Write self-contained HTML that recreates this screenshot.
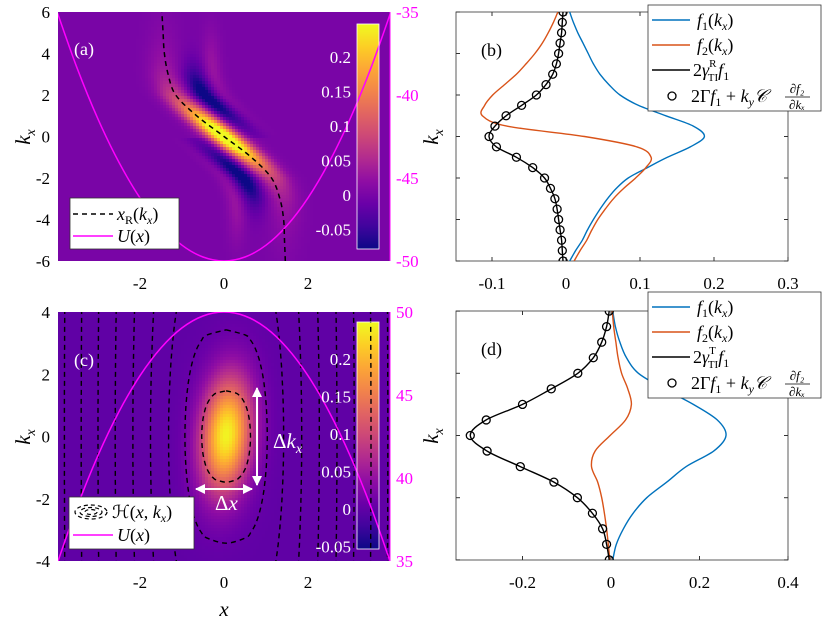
<!DOCTYPE html>
<html><head><meta charset="utf-8">
<style>
html,body{margin:0;padding:0;background:#fff;}
#wrap{position:relative;width:830px;height:623px;overflow:hidden;font-family:"Liberation Serif",serif;}
canvas{position:absolute;image-rendering:pixelated;}
svg{position:absolute;left:0;top:0;}
text{font-family:"Liberation Serif",serif;}
</style></head><body>
<div id="wrap">
<canvas id="hmA" style="left:58px;top:12px" width="332" height="249"></canvas>
<canvas id="hmC" style="left:58px;top:312px" width="332" height="249"></canvas>
<canvas id="cbA" style="left:357px;top:24px" width="22" height="225"></canvas>
<canvas id="cbC" style="left:357px;top:322px" width="22" height="227"></canvas>
<svg id="svg" width="830" height="623" xmlns="http://www.w3.org/2000/svg">
<defs>
<clipPath id="clipA"><rect x="58" y="12" width="332" height="249"/></clipPath>
<clipPath id="clipC"><rect x="58" y="312" width="332" height="249"/></clipPath>
<clipPath id="clipB"><rect x="456" y="12" width="332" height="249"/></clipPath>
<clipPath id="clipD"><rect x="456" y="311" width="332" height="249"/></clipPath>
<marker id="ah" viewBox="0 0 10 10" refX="9" refY="5" markerWidth="5" markerHeight="5" orient="auto-start-reverse"><path d="M0,0 L10,5 L0,10 z" fill="#fff"/></marker>
</defs>
<g id="gA"></g><g id="gB"></g><g id="gC"></g><g id="gD"></g>
</svg>
</div>
<script>
// ---------- DATA ----------
const kxB = [-6,-5.5,-5,-4.5,-4,-3.5,-3,-2.5,-2,-1.5,-1,-0.5,0,0.5,1,1.5,2,2.5,3,3.5,4,4.5,5,5.5,6];
const f1B = [0.005,0.013,0.022,0.029,0.037,0.046,0.056,0.068,0.084,0.110,0.137,0.168,0.187,0.172,0.135,0.098,0.073,0.058,0.046,0.037,0.030,0.023,0.016,0.010,0.005];
const f2B = [0.011,0.019,0.028,0.035,0.043,0.053,0.064,0.078,0.094,0.108,0.115,0.096,0.025,-0.080,-0.113,-0.110,-0.099,-0.083,-0.067,-0.054,-0.042,-0.032,-0.024,-0.017,-0.011];
const gamB = [-0.004,-0.005,-0.006,-0.008,-0.010,-0.012,-0.015,-0.021,-0.029,-0.045,-0.067,-0.094,-0.104,-0.096,-0.081,-0.060,-0.040,-0.027,-0.018,-0.013,-0.010,-0.008,-0.006,-0.005,-0.004];
const kxD = [-4,-3.5,-3,-2.5,-2,-1.5,-1,-0.5,0,0.5,1,1.5,2,2.5,3,3.5,4];
const f1D = [0.004,0.012,0.028,0.050,0.081,0.126,0.170,0.232,0.260,0.240,0.186,0.120,0.062,0.035,0.020,0.010,0.004];
const f2D = [-0.003,-0.006,-0.010,-0.015,-0.021,-0.030,-0.044,-0.036,-0.002,0.033,0.046,0.038,0.024,0.016,0.011,0.006,0.003];
const gamD = [-0.004,-0.010,-0.019,-0.042,-0.076,-0.129,-0.205,-0.280,-0.318,-0.282,-0.200,-0.135,-0.075,-0.040,-0.021,-0.010,-0.004];
const kxR = [-6,-5,-4,-3,-2,-1,0,1,2,3,4,5,6];
const xRvals = [1.46,1.44,1.42,1.33,1.13,0.65,0,-0.65,-1.15,-1.33,-1.42,-1.45,-1.48];
const xU = [-4,-3.5,-3,-2.5,-2,-1.5,-1,-0.5,0,0.5,1,1.5,2,2.5,3,3.5,4];
const UA = [-34.8,-38.36,-41.45,-44.06,-46.2,-47.86,-49.05,-49.76,-50,-49.76,-49.05,-47.86,-46.2,-44.06,-41.45,-38.36,-34.8];
const UC = [34.64,38.24,41.36,44.0,46.16,47.84,49.04,49.76,50,49.76,49.04,47.84,46.16,44.0,41.36,38.24,34.64];
const contourX0 = [0.58,0.98,1.37,1.8,2.22,2.64,3.05,3.45,3.85];
const ticksHX = [-2,0,2];
const ticksAY = [6,4,2,0,-2,-4,-6];
const ticksCY = [4,2,0,-2,-4];
const ticksUA = [-35,-40,-45,-50];
const ticksUC = [50,45,40,35];
const ticksBX = [-0.1,0,0.1,0.2,0.3];
const ticksDX = [-0.2,0,0.2,0.4];
const cbTicks = [0.2,0.15,0.1,0.05,0,-0.05];

// ---------- AXES ----------
const NS="http://www.w3.org/2000/svg";
const xH = v => 224 + v*42;
const yA = k => 136.5 - k*20.75;
const yC = k => 436.5 - k*31.125;
const yUA = u => 261 - (u+50)*249/15;
const yUC = u => 561 - (u-35)*249/15;
const xB = v => 566 + v*740;
const xD = v => 611 + v*442.5;
const yD = k => 435.5 - k*31.1;

function el(tag, attrs, parent, txt){const e=document.createElementNS(NS,tag);for(const a in attrs)e.setAttribute(a,attrs[a]);if(txt!==undefined)e.textContent=txt;parent.appendChild(e);return e;}
function smooth(p){let d="M"+p[0][0].toFixed(1)+","+p[0][1].toFixed(1);for(let i=0;i<p.length-1;i++){const p0=p[i-1]||p[i],p1=p[i],p2=p[i+1],p3=p[i+2]||p2;const c1=[p1[0]+(p2[0]-p0[0])/6,p1[1]+(p2[1]-p0[1])/6],c2=[p2[0]-(p3[0]-p1[0])/6,p2[1]-(p3[1]-p1[1])/6];d+="C"+c1[0].toFixed(1)+","+c1[1].toFixed(1)+" "+c2[0].toFixed(1)+","+c2[1].toFixed(1)+" "+p2[0].toFixed(1)+","+p2[1].toFixed(1);}return d;}
function interp(xs,ys,x){if(x<=xs[0])return ys[0];for(let i=0;i<xs.length-1;i++){if(x<=xs[i+1]){const t=(x-xs[i])/(xs[i+1]-xs[i]);return ys[i]+t*(ys[i+1]-ys[i]);}}return ys[ys.length-1];}

// plasma
const PL=[[13,8,135],[65,4,157],[106,0,168],[143,13,164],[177,42,144],[204,71,120],[225,100,98],[242,132,75],[252,166,54],[252,206,37],[240,249,33]];
function plasma(t){t=Math.max(0,Math.min(1,t))*10;const i=Math.min(9,Math.floor(t)),f=t-i;return PL[i].map((c,j)=>Math.round(c+f*(PL[i+1][j]-c)));}

// ---------- HEATMAPS ----------
function WA(x,k){const xr=interp(kxR,xRvals,k);const xl=-0.6*k;const wl=Math.exp(-k*k/(2*1.6*1.6));const c=wl*xl+(1-wl)*xr;const d=x-c;const s=k>=0?1:-1;const ak=Math.abs(k);
 let w=(0.23*Math.exp(-k*k/(2*1.0*1.0))+0.07*Math.exp(-k*k/(2*2.6*2.6)))*Math.exp(-d*d/(2*0.26*0.26));
 w+=-0.095*Math.exp(-Math.pow(d-s*0.7,2)/(2*0.2*0.2))*Math.exp(-Math.pow(ak-1.9,2)/(2*1.0*1.0));
 w+=0.03*Math.exp(-Math.pow(d-s*1.15,2)/(2*0.15*0.15))*Math.exp(-Math.pow(ak-3.2,2)/(2*1.3*1.3));
 return w;}
function WC(x,k){const xp=x-0.05-0.05*k, kp=k-0.05;return 0.245*Math.exp(-(xp*xp)/(2*0.42*0.42)-(kp*kp)/(2*1.3*1.3));}
function drawHM(id,f,kTop,kBot,vmin,vmax){const c=document.getElementById(id),g=c.getContext('2d');const cs=3;
 for(let px=0;px<332;px+=cs)for(let py=0;py<249;py+=cs){const x=-3.95+(px+cs/2)/332*7.9;const k=kTop-(py+cs/2)/249*(kTop-kBot);const col=plasma((f(x,k)-vmin)/(vmax-vmin));g.fillStyle="rgb("+col+")";g.fillRect(px,py,cs,cs);}}
drawHM('hmA',WA,6,-6,-0.078,0.248);
drawHM('hmC',WC,4,-4,-0.053,0.249);
function drawCB(id,h){const c=document.getElementById(id),g=c.getContext('2d');for(let y=0;y<h;y++){g.fillStyle="rgb("+plasma(1-y/(h-1))+")";g.fillRect(0,y,22,1);}}
drawCB('cbA',225);drawCB('cbC',227);

// ---------- PANEL A ----------
const gA=document.getElementById('gA');
let p=el('path',{d:smooth(xU.map((x,i)=>[xH(x),yUA(UA[i])])),fill:'none',stroke:'#ff00ff','stroke-width':1.5,'clip-path':'url(#clipA)'},gA);

p=el('path',{d:smooth(kxR.map((k,i)=>[xH(xRvals[i]),yA(k)])),fill:'none',stroke:'#000','stroke-width':1.5,'stroke-dasharray':'5,4','clip-path':'url(#clipA)'},gA);

el('line',{x1:390,y1:12,x2:390,y2:261,stroke:'#ff00ff','stroke-width':1},gA);
el('rect',{x:357,y:24,width:22,height:225,fill:'none',stroke:'#fff','stroke-width':0.8},gA);
function yTicks(g,arr,f,x){arr.forEach(v=>{const t=el('text',{x:x,y:f(v)+6,'text-anchor':'end','font-size':17,fill:'#000'},g,v<0?'-'+Math.abs(v):String(v));});}
function xTicks(g,arr,f,y){arr.forEach(v=>{const t=el('text',{x:f(v),y:y,'text-anchor':'middle','font-size':17,fill:'#000'},g,v<0?'-'+Math.abs(v):String(v));});}
yTicks(gA,ticksAY,yA,50);
xTicks(gA,ticksHX,xH,289);
ticksUA.forEach(v=>{const t=el('text',{x:396,y:yUA(v)+6,'font-size':17,fill:'#ff00ff'},gA,String(v));});
function cbLabels(g,y0,step){cbTicks.forEach(v=>{const t=el('text',{x:351,y:y0-v/0.05*step+6,'text-anchor':'end','font-size':17,fill:'#fff'},g,v<0?'-'+Math.abs(v):String(v));});}
cbLabels(gA,195,34.5);
function kxLabel(g,x,y){const t=el('text',{x:0,y:0,'font-size':21,'font-style':'italic',transform:`translate(${x},${y}) rotate(-90)`,'text-anchor':'middle'},g);t.innerHTML='k<tspan font-size="14" dy="5">x</tspan>';}
kxLabel(gA,30,137);
el('text',{x:74,y:55,'font-size':18,fill:'#fff'},gA,'(a)');
let lg=el('g',{},gA);
el('rect',{x:70,y:198,width:109,height:51,fill:'#fff',stroke:'#333','stroke-width':0.8},lg);
el('line',{x1:73,y1:214,x2:113,y2:214,stroke:'#000','stroke-width':1.5,'stroke-dasharray':'5,4'},lg);
el('text',{x:117,y:220,'font-size':18,'font-style':'italic'},lg).innerHTML='x<tspan font-size="12" dy="4" font-style="normal">R</tspan><tspan dy="-4" font-style="normal">(</tspan>k<tspan font-size="12" dy="4">x</tspan><tspan dy="-4" font-style="normal">)</tspan>';
el('line',{x1:73,y1:236,x2:113,y2:236,stroke:'#ff00ff','stroke-width':1.5},lg);
el('text',{x:117,y:242,'font-size':18,'font-style':'italic'},lg).innerHTML='U<tspan font-style="normal">(</tspan>x<tspan font-style="normal">)</tspan>';

// ---------- PANEL C ----------
const gC=document.getElementById('gC');
const ca=3.25, cb=9.35;
const V=x=>ca*x*x+cb*x*x*x*x;
const Vinv=r=>Math.sqrt((-ca+Math.sqrt(ca*ca+4*cb*r))/(2*cb));
const cg=el('g',{'clip-path':'url(#clipC)',fill:'none',stroke:'#000','stroke-width':1.4,'stroke-dasharray':'5,4'},gC);

contourX0.forEach(x0=>{const L=V(x0);
 if(L<16){const km=Math.sqrt(L);const pts=[];for(let i=0;i<=40;i++){const k=km-2*km*i/40;const r=Math.max(0,L-k*k);pts.push([xH(Vinv(r)+0.05),yC(k)]);}for(let i=1;i<=40;i++){const k=-km+2*km*i/40;const r=Math.max(0,L-k*k);pts.push([xH(-Vinv(r)+0.05),yC(k)]);}
  const c=el('path',{d:smooth(pts)},cg);}
 else{[1,-1].forEach(s=>{const pts=[];for(let i=0;i<=40;i++){const k=4.1-8.2*i/40;pts.push([xH(s*Vinv(L-k*k)+0.05),yC(k)]);}const c=el('path',{d:smooth(pts)},cg);});}
});
p=el('path',{d:smooth(xU.map((x,i)=>[xH(x),yUC(UC[i])])),fill:'none',stroke:'#ff00ff','stroke-width':1.5,'clip-path':'url(#clipC)'},gC);

el('line',{x1:390,y1:312,x2:390,y2:561,stroke:'#ff00ff','stroke-width':1},gC);
el('rect',{x:357,y:322,width:22,height:227,fill:'none',stroke:'#fff','stroke-width':0.8},gC);
yTicks(gC,ticksCY,yC,50);
xTicks(gC,ticksHX,xH,588);
ticksUC.forEach(v=>{const t=el('text',{x:396,y:yUC(v)+6,'font-size':17,fill:'#ff00ff'},gC,String(v));});
cbLabels(gC,509,37.5);
kxLabel(gC,30,437);
el('text',{x:224,y:616,'font-size':21,'font-style':'italic','text-anchor':'middle'},gC,'x');
el('text',{x:74,y:366,'font-size':18,fill:'#fff'},gC,'(c)');
let ar=el('line',{x1:257,y1:388,x2:257,y2:485,stroke:'#fff','stroke-width':2,'marker-start':'url(#ah)','marker-end':'url(#ah)'},gC);
ar=el('line',{x1:196,y1:489,x2:252,y2:489,stroke:'#fff','stroke-width':2,'marker-start':'url(#ah)','marker-end':'url(#ah)'},gC);
el('text',{x:273,y:448,'font-size':21,fill:'#fff'},gC).innerHTML='Δ<tspan font-style="italic">k</tspan><tspan font-size="14" dy="5" font-style="italic">x</tspan>';
el('text',{x:215,y:510,'font-size':21,fill:'#fff'},gC).innerHTML='Δ<tspan font-style="italic">x</tspan>';
lg=el('g',{},gC);
el('rect',{x:69,y:497,width:125,height:52,fill:'#fff',stroke:'#333','stroke-width':0.8},lg);
[[16,7],[11,4.5],[6,2.5]].forEach(r=>el('ellipse',{cx:91,cy:512,rx:r[0],ry:r[1],fill:'none',stroke:'#000','stroke-width':1.2,'stroke-dasharray':'4,3'},lg));
el('text',{x:112,y:518,'font-size':18},lg).innerHTML='ℋ(<tspan font-style="italic">x</tspan>, <tspan font-style="italic">k</tspan><tspan font-size="12" dy="4" font-style="italic">x</tspan><tspan dy="-4">)</tspan>';
el('line',{x1:73,y1:535,x2:113,y2:535,stroke:'#ff00ff','stroke-width':1.5},lg);
el('text',{x:117,y:541,'font-size':18,'font-style':'italic'},lg).innerHTML='U<tspan font-style="normal">(</tspan>x<tspan font-style="normal">)</tspan>';

// ---------- LINE PANELS ----------
function linePanel(g,top,kArr,yF,xF,f1,f2,gam,ticksX,clip,label,supT,legTop){
 el('rect',{x:456,y:top,width:332,height:249,fill:'#fff',stroke:'#333','stroke-width':0.8},g);
 const kt=(kArr[kArr.length-1]>5)?[6,4,2,0,-2,-4,-6]:[4,2,0,-2,-4];
 kt.forEach(k=>{el('line',{x1:456,y1:yF(k),x2:460,y2:yF(k),stroke:'#333'},g);el('line',{x1:788,y1:yF(k),x2:784,y2:yF(k),stroke:'#333'},g);});
 ticksX.forEach(v=>{el('line',{x1:xF(v),y1:top+249,x2:xF(v),y2:top+245,stroke:'#333'},g);el('line',{x1:xF(v),y1:top,x2:xF(v),y2:top+4,stroke:'#333'},g);});
 xTicks(g,ticksX,xF,top+277);
 kxLabel(g,438,top+125);
 const cl=el('g',{'clip-path':'url(#'+clip+')'},g);
 let q=el('path',{d:smooth(kArr.map((k,i)=>[xF(f1[i]),yF(k)])),fill:'none',stroke:'#0072BD','stroke-width':1.4},cl);
 q=el('path',{d:smooth(kArr.map((k,i)=>[xF(f2[i]),yF(k)])),fill:'none',stroke:'#D95319','stroke-width':1.4},cl);
 q=el('path',{d:smooth(kArr.map((k,i)=>[xF(gam[i]),yF(k)])),fill:'none',stroke:'#000','stroke-width':1.4},cl);
 kArr.forEach((k,i)=>{const c=el('circle',{cx:xF(gam[i]),cy:yF(k),r:4,fill:'none',stroke:'#000','stroke-width':1.3},cl);});
 el('text',{x:481,y:top+44,'font-size':18},g,label);
 const L=el('g',{},g);
 el('rect',{x:648,y:legTop,width:173,height:106,fill:'#fff',stroke:'#333','stroke-width':0.8},L);
 const r=[legTop+15,legTop+40,legTop+65,legTop+91];
 el('line',{x1:652,y1:r[0],x2:690,y2:r[0],stroke:'#0072BD','stroke-width':1.4},L);
 el('text',{x:697,y:r[0]+6,'font-size':18,'font-style':'italic'},L).innerHTML='f<tspan font-size="12" dy="4" font-style="normal">1</tspan><tspan dy="-4" font-style="normal">(</tspan>k<tspan font-size="12" dy="4">x</tspan><tspan dy="-4" font-style="normal">)</tspan>';
 el('line',{x1:652,y1:r[1],x2:690,y2:r[1],stroke:'#D95319','stroke-width':1.4},L);
 el('text',{x:697,y:r[1]+6,'font-size':18,'font-style':'italic'},L).innerHTML='f<tspan font-size="12" dy="4" font-style="normal">2</tspan><tspan dy="-4" font-style="normal">(</tspan>k<tspan font-size="12" dy="4">x</tspan><tspan dy="-4" font-style="normal">)</tspan>';
 el('line',{x1:652,y1:r[2],x2:690,y2:r[2],stroke:'#000','stroke-width':1.4},L);
 el('text',{x:693,y:r[2]+6,'font-size':18},L).innerHTML='2<tspan font-style="italic">γ</tspan><tspan font-size="11" dy="-9">'+supT+'</tspan><tspan font-size="11" dx="-8" dy="14">TI</tspan><tspan dy="-5" font-style="italic">f</tspan><tspan font-size="12" dy="4">1</tspan>';
 el('circle',{cx:672,cy:r[3],r:4,fill:'none',stroke:'#000','stroke-width':1.3},L);
 el('text',{x:691,y:r[3]+6,'font-size':18},L).innerHTML='2Γ<tspan font-style="italic">f</tspan><tspan font-size="12" dy="4">1</tspan><tspan dy="-4"> + </tspan><tspan font-style="italic">k</tspan><tspan font-size="12" dy="4" font-style="italic">y</tspan><tspan dy="-4" font-style="italic">𝒞</tspan>';
 el('text',{x:797,y:r[3]-3,'font-size':13,'font-style':'italic','text-anchor':'middle'},L,'∂f₂');
 el('line',{x1:785,y1:r[3]+1,x2:810,y2:r[3]+1,stroke:'#000','stroke-width':0.8},L);
 el('text',{x:797,y:r[3]+13,'font-size':13,'font-style':'italic','text-anchor':'middle'},L,'∂kₓ');
}
linePanel(document.getElementById('gB'),12,kxB,yA,xB,f1B,f2B,gamB,ticksBX,'clipB','(b)','R',5);
linePanel(document.getElementById('gD'),311,kxD,yD,xD,f1D,f2D,gamD,ticksDX,'clipD','(d)','T',292);
</script>
</body></html>
